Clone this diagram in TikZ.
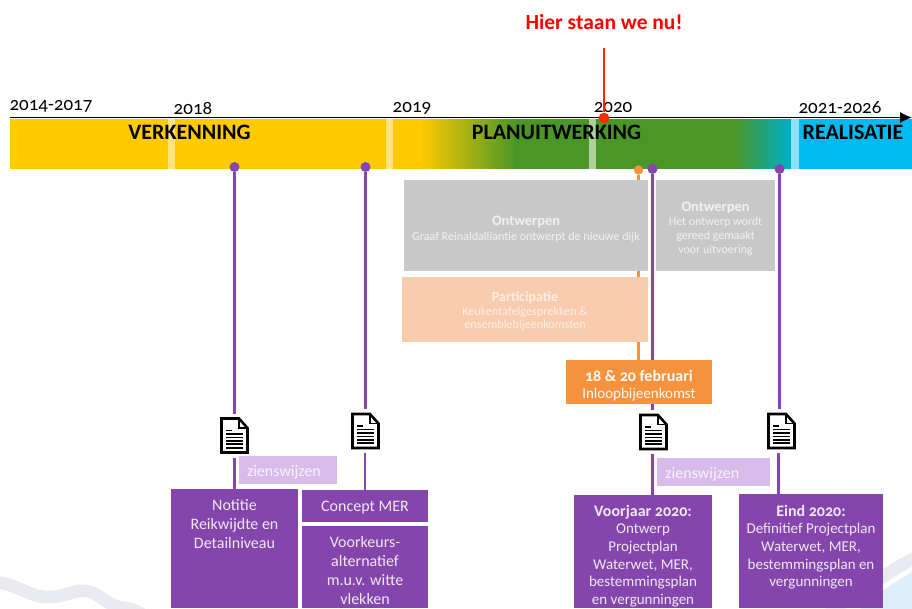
\documentclass[tikz,border=0pt]{standalone}
\usepackage{fontspec}
\setmainfont{Carlito}[Numbers=OldStyle]
\usetikzlibrary{arrows.meta}
\definecolor{cYellow}{HTML}{FFCA00}
\definecolor{cGreen}{HTML}{4A9728}
\definecolor{cTeal}{HTML}{00ADBD}
\definecolor{cBlue}{HTML}{00BAF2}
\definecolor{cPurple}{HTML}{8445AC}
\definecolor{cLilac}{HTML}{D8BBEA}
\definecolor{cOrange}{HTML}{F5923E}
\definecolor{cPeach}{HTML}{F8CBAD}
\definecolor{cGrey}{HTML}{C8C8C8}
\definecolor{cWave}{HTML}{E9EAF0}
\definecolor{cSky}{HTML}{DCEFFA}
\definecolor{cRed}{HTML}{FF2A00}
\newcommand{\fpx}[2]{\fontsize{\dimexpr#1pt*3/4\relax}{\dimexpr#2pt*3/4\relax}\selectfont}
% name, x1, y1, x2, y2, style, top offset (px), content
\newcommand{\boxnode}[8]{%
  \pgfmathsetmacro{\bw}{(#4-#2)*0.75}%
  \pgfmathsetmacro{\bh}{(#5-#3)*0.75}%
  \pgfmathsetmacro{\bo}{#7*0.75}%
  \node[flatbox,#6,minimum width=\bw pt,minimum height=\bh pt] (#1) at ({(#2+#4)/2},{(#3+#5)/2})
    {\parbox[c][\bh pt][t]{\bw pt}{\centering\vspace*{\bo pt}#8}};}
% name, centre x, centre y : transparent node with a document icon
\newcommand{\docicon}[3]{%
  \node[docnode] (#1) at (#2,#3) {};
  \begin{scope}[shift={(#2-14.5,#3-18.5)}]
    \draw[black,fill=white,line width=1.9pt,line join=miter] (1.5,1.5) -- (19,1.5) -- (27.5,11) -- (27.5,35.5) -- (1.5,35.5) -- cycle;
    \draw[black,line width=1.4pt] (19,1.5) -- (19,11) -- (27.5,11);
    \fill[black] (6,12.5) rectangle (12,14);
    \foreach \yy in {16.2,19.6,23,26.4,29.8}{\fill[black] (6,\yy) rectangle (23,\yy+1.7);}
  \end{scope}}
\tikzset{
  flatbox/.style={inner sep=0pt,outer sep=0pt,draw=none},
  docnode/.style={inner sep=0pt,outer sep=0pt,minimum width=29*0.75pt,minimum height=44*0.75pt},
  vlinep/.style={cPurple,line width=2.2pt},
  vlineo/.style={cOrange,line width=2.2pt},
  dotp/.style={circle,fill=cPurple,inner sep=0pt,minimum size=7.5pt},
  doto/.style={circle,fill=cOrange,inner sep=0pt,minimum size=7pt},
  yearlabel/.style={inner sep=0pt,font=\fpx{19}{22},anchor=center},
  phaselabel/.style={inner sep=0pt,font=\fpx{22}{25}\bfseries,anchor=center},
  purplebox/.style={fill=cPurple,text=white!88!cPurple},
  lilacbox/.style={fill=cLilac,text=white!85!cLilac},
  greybox/.style={fill=cGrey,text=white!75!cGrey},
  peachbox/.style={fill=cPeach,text=white!70!cPeach},
  orangebox/.style={fill=cOrange,text=white!95!cOrange},
}
\begin{document}
\begin{tikzpicture}[x=0.75pt,y=-0.75pt]
\useasboundingbox (0,0) rectangle (912,608);
% background swooshes
\begin{scope}
  \clip (0,0) rectangle (912,608);
  \draw[cWave,line width=9.5pt] (-5,582) .. controls (18,584) and (30,598) .. (50,597)
    .. controls (65,597) and (72,590) .. (85,591) .. controls (100,592) and (105,606) .. (125,608) .. controls (135,609) and (145,615) .. (155,625);
  \fill[cSky] (850,620) .. controls (868,600) and (885,588) .. (915,570) -- (915,615) -- cycle;
  \draw[cWave,line width=9.5pt] (800,640) .. controls (830,610) and (860,590) .. (882,577) .. controls (892,571) and (902,564) .. (915,558);
\end{scope}
% phase bar
\begin{scope}
  \clip (10,119) rectangle (912,168);
  \fill[cYellow] (10,115) rectangle (421,172);
  \shade[left color=cYellow,right color=cGreen] (420,115) rectangle (516,172);
  \fill[cGreen] (515,115) rectangle (736,172);
  \shade[left color=cGreen,right color=cTeal] (735,115) rectangle (786,172);
  \fill[cTeal] (785,115) rectangle (792,172);
  \fill[cBlue] (791,115) rectangle (912,172);
  \fill[cYellow!50!white] (168,115) rectangle (175,172);
  \fill[cYellow!50!white] (386,115) rectangle (393,172);
  \fill[cGreen!45!white] (589,115) rectangle (596,172);
  \fill[cBlue!45!white] (791,115) rectangle (799,172);
\end{scope}
% axis
\coordinate (axisL) at (10,117.5);
\coordinate (axisR) at (912,117.5);
\draw[black,line width=1.3pt,-{Latex[length=9pt,width=8.5pt]}] (axisL) -- (axisR);
% labels on the axis
\node[yearlabel] (y1) at (51,106) {2014-2017};
\node[yearlabel] (y2) at (193,108) {2018};
\node[yearlabel] (y3) at (412,108) {2019};
\node[yearlabel] (y4) at (613,107) {2020};
\node[yearlabel] (y5) at (840,108) {2021-2026};
\node[phaselabel] (p1) at (189.5,132) {VERKENNING};
\node[phaselabel] (p2) at (556.5,132) {PLANUITWERKING};
\node[phaselabel] (p3) at (853,132) {REALISATIE};
% now marker
\node[inner sep=0pt,text=red,font=\fpx{21.5}{24}\bfseries] (now) at (604,22) {Hier staan we nu!};
\coordinate (nowTop) at (604,48);
\node[circle,fill=cRed,inner sep=0pt,minimum size=8pt] (nowDot) at (604,118) {};
\draw[cRed,line width=2.2pt] (nowTop) -- (nowDot);
% dots
\node[dotp] (d1) at (234.5,167) {};
\node[dotp] (d2) at (365.5,167) {};
\node[dotp] (d3) at (652.5,169) {};
\node[dotp] (d4) at (779.5,169) {};
\node[doto] (d5) at (638.5,170) {};
% icons
\docicon{doc1}{234.5}{435.5}
\docicon{doc2}{365.5}{431}
\docicon{doc3}{653.5}{432}
\docicon{doc4}{781.5}{431}
% connectors, under the boxes
\coordinate (b1top) at (234.5,490);
\coordinate (b2top) at (365,491);
\coordinate (b3top) at (652.5,496);
\coordinate (b4top) at (778.5,495);
\coordinate (otop) at (638.5,361);
\draw[vlineo] (d5) -- (otop);
\draw[vlinep] (d1) -- (d1 |- doc1.north);
\draw[vlinep] (d1 |- doc1.south) -- (b1top);
\draw[vlinep] (d2) -- (d2 |- doc2.north);
\draw[vlinep] (b2top |- doc2.south) -- (b2top);
\draw[vlinep] (d3) -- (d3 |- doc3.north);
\draw[vlinep] (d3 |- doc3.south) -- (b3top);
\draw[vlinep] (d4) -- (d4 |- doc4.north);
\draw[vlinep] (b4top |- doc4.south) -- (b4top);
% grey boxes
\boxnode{g1}{404}{180}{648}{271}{greybox}{36}{\fpx{14.4}{15.5}\textbf{Ontwerpen}\\\fpx{12.1}{15}Graaf Reinaldalliantie ontwerpt de nieuwe dijk}
\boxnode{g2}{656}{180}{775}{271}{greybox}{22}{\fpx{14.4}{14.3}\textbf{Ontwerpen}\\\fpx{12}{14}Het ontwerp wordt\\gereed gemaakt\\voor uitvoering}
\boxnode{pa}{402}{277}{648}{342}{peachbox}{15}{\fpx{14}{15.5}\textbf{Participatie}\\\fpx{12.2}{13.5}Keukentafelgesprekken \&\\ensemblebijeenkomsten}
\boxnode{or}{566}{360}{712}{404}{orangebox}{10}{\fpx{16}{17}\textbf{18 \& 20 februari}\\\fpx{15}{17}Inloopbijeenkomst}
% lilac boxes
\boxnode{z1}{239}{456}{337}{484}{lilacbox}{9.5}{\raggedright\hspace*{6pt}\fpx{16}{18}zienswijzen}
\boxnode{z2}{657}{458}{770}{486}{lilacbox}{9.5}{\raggedright\hspace*{6.3pt}\fpx{16}{18}zienswijzen}
% purple boxes
\boxnode{b1}{171}{489}{298}{608}{purplebox}{10}{\fpx{16}{19}Notitie\\Reikwijdte en\\Detailniveau}
\boxnode{b2}{302}{490}{428}{522}{purplebox}{11}{\fpx{16}{19}Concept MER}
\boxnode{b3}{302}{526}{428}{608}{purplebox}{10}{\fpx{16}{19}Voorkeurs-\\alternatief\\m.u.v. witte\\vlekken}
\boxnode{b4}{574}{495}{712}{608}{purplebox}{10}{\fpx{16}{17.6}\textbf{Voorjaar 2020:}\\\fpx{15}{17.6}Ontwerp\\Projectplan\\Waterwet, MER,\\bestemmingsplan\\en vergunningen}
\boxnode{b5}{739}{494}{883}{608}{purplebox,path picture={
  \begin{scope}[shift={(path picture bounding box.south east)}]
    \fill[cPurple!90!black!95!cSky] (-60,10) .. controls (-35,-12) and (-18,-25) .. (0,-38) -- (0,-26) .. controls (-15,-14) and (-30,-2) .. (-45,10) -- cycle;
    \fill[cPurple!75!blue] (-20,10) .. controls (-12,-2) and (-6,-10) .. (0,-18) -- (0,10) -- cycle;
  \end{scope}}}{11}{\fpx{16}{17.6}\textbf{Eind 2020:}\\\fpx{15}{17.6}Definitief Projectplan\\Waterwet, MER,\\bestemmingsplan en\\vergunningen}
\end{tikzpicture}
\end{document}
